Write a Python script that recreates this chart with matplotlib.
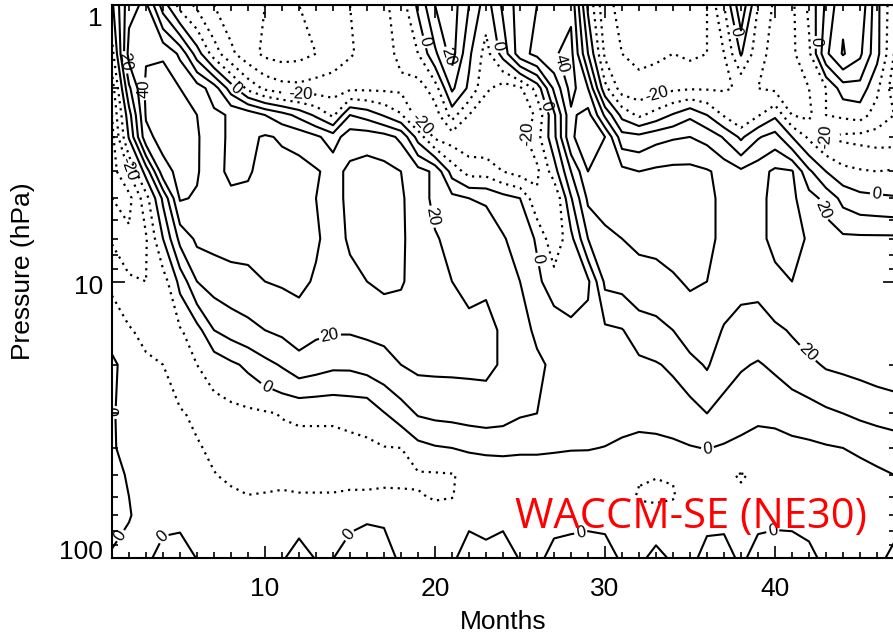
import numpy as np
import matplotlib
matplotlib.use("Agg")
import matplotlib.pyplot as plt
import matplotlib.transforms as mtrans
from matplotlib.ticker import FixedLocator, NullFormatter

# ---------------- data (zonal wind, m/s) ----------------
months = list(range(1, 48))
pressure = [1, 1.5, 2, 2.5, 3, 4, 5, 7, 10, 15, 20, 30, 40, 50, 60, 70, 100]

u_p1 = [-2, 27, 32, 5, -14, -22, -30, -35, -38, -40, -41, -40, -38, -35, -30, -26, -22, -15, 2, 20,
        25, 10, -5, 12, 25, 30, 34, 38, -2, -28, -32, -36, -38, -35, -32, -30, -10, 18, -10, -22,
        -22, -8, 12, 28, 28, 3, -18]
u_p1_5 = [-14, 34, 39, 39, 28, 5, -15, -28, -36, -42, -44, -43, -40, -36, -31, -27, -23, -18, -10, 8,
          24, 2, -14, 4, 26, 33, 39, 43, 10, -22, -30, -33, -32, -30, -32, -30, -20, 1, -16, -24,
          -22, -12, 18, 31, 22, 3, -20]
u_p2 = [-25, 18, 42, 44, 40, 35, 25, 5, -13, -22, -26, -27, -25, -24, -22, -22, -22, -22, -25, -15,
        12, -2, -18, -25, -22, -6, 22, 44, 30, -7, -25, -26, -24, -22, -21, -21, -21, -19, -20, -22,
        -23, -20, -10, 5, 6, -8, -25]
u_p2_5 = [-30, 6, 41, 45, 44, 40, 32, 29, 27, 20, 14, 7, -2, -12, 10, 6, -1, -9, -24, -25,
          -6, -20, -28, -30, -28, -18, 8, 38, 44, 18, -3, -12, -6, 1, 8, 0, -11, -20, -11, -2,
          -20, -22, -10, -8, -6, -14, -20]
u_p3 = [-33, 1, 37, 44, 46, 41, 34, 28, 28, 31, 29, 27, 22, 15, 26, 26, 24, 18, -4, -22,
        -25, -27, -28, -28, -24, -14, 7, 39, 44, 40, 14, 13, 17, 19, 20, 17, 9, -2, 9, 14,
        0, -12, -20, -22, -23, -24, -24]
u_p4 = [-34, -20, 4, 36, 43, 41, 33, 28, 29, 33, 33, 33, 31, 27, 32, 34, 33, 30, 24, 18,
        -4, -14, -14, -20, -24, -22, -5, 20, 40, 38, 33, 30, 32, 33, 33, 31, 27, 22, 26, 32,
        31, 12, 0, -7, -9, -10, -9]
u_p5 = [-30, -33, -14, 12, 41, 39, 33, 32, 32, 34, 34, 34, 30, 27, 32, 35, 34, 31, 26, 17,
        13, 10, 9, 4, 0, -18, -20, 9, 32, 35, 33, 31, 33, 34, 34, 32, 28, 26, 28, 32,
        32, 24, 17, 7, 3, 2, 1]
u_p7 = [-21, -28, -21, 0, 23, 32, 33, 34, 34, 33, 32, 32, 31, 27, 31, 34, 33, 31, 27, 21,
        17, 15, 15, 11, 5, -1, -18, -3, 20, 27, 30, 32, 33, 33, 34, 32, 28, 26, 28, 32,
        33, 29, 24, 22, 22, 22, 22]
u_p10 = [-12, -18, -20, -15, 3, 20, 24, 26, 27, 30, 31, 32, 29, 26, 28, 30, 32, 31, 26, 22,
         20, 18, 19, 14, 10, 2, -5, -9, -2, 22, 23, 26, 26, 29, 31, 30, 26, 23, 23, 28,
         30, 27, 25, 24, 24, 24, 24]
u_p15 = [-4, -9, -13, -14, -11, -4, 10, 14, 17, 20, 22, 25, 22, 21, 21, 22, 23, 24, 24, 23,
         23, 22, 22, 19, 12, 9, 6, 4, 4, 8, 9.5, 15, 17, 20, 25, 26, 19, 16, 15, 18,
         21, 24, 24, 24, 24, 24, 24]
u_p20 = [2, -4, -8, -10, -13, -10, -7, -2, 2, 7, 11, 16, 14, 12, 12, 14, 16, 20, 22, 22,
         22, 22, 22, 19, 14, 11, 9, 7, 7, 5.6, 6.3, 7.8, 9.2, 11.7, 17, 21, 14.4, 11, 9.2, 11.7,
         15, 18, 21, 22, 23, 24, 24]
u_p30 = [1, -4, -6, -8, -9.5, -11, -13, -13, -12, -11, -9.5, -9, -9, -9, -8, -8, -0.5, 5, 11, 12.4,
         13, 14, 15, 14, 11, 10, 9, 7, 6, 5, 2, 2, 2.5, 3.5, 5.5, 10, 6, 3, 1.5, 2,
         4, 5.5, 8, 10, 12, 14, 16]
u_p40 = [1, -3, -5, -7, -8, -9.5, -11, -12, -13, -13, -13, -12, -12, -12, -12, -11, -10.5, -10, -3.5, -1,
         0, 1.5, 2, 2, 1.5, 1.5, 1, 0.5, 0.5, -0.3, -1, -2, -2, -1.5, -0.5, 0.3, -1, -2, -3, -3,
         -2.5, -2, -1, 0, 1, 2, 3]
u_p50 = [3, -1, -5, -7, -8, -9, -9.8, -11, -12, -12, -12, -12, -12, -12, -12, -12, -12, -11.5, -11, -11,
         -10.5, -8, -6, -5, -5, -5, -5, -5, -6, -7, -8, -9.5, -9.8, -9.6, -8, -7, -9, -10.5, -9, -7,
         -6, -5, -4, -3, -2, -1, 0]
u_p60 = [3, 0, -3, -5, -6, -7, -8, -9, -9.8, -9.5, -9, -9.5, -9.5, -9.5, -9, -9, -8.5, -9, -9.5, -10.5,
         -10.3, -7, -6, -5, -5, -5, -5, -5, -6, -7, -8, -10.5, -11, -10.5, -7, -6, -7, -9, -7, -6,
         -5, -5, -4, -4, -3, -2, -1]
u_p70 = [3, 0.5, -3, -4, -4, -5, -6, -6, -6, -6, -5, -4, -5, -5, -4, -2, -2.5, -6, -7, -8,
         -6, -4, -4.5, -4, -5, -5, -4, -4, -4, -4, -5, -8, -8, -7, -6, -4, -4, -6, -4, -4,
         -4, -4, -4, -4, -4, -4, -3]
u_p100 = [-1, -3, -3, 5, 7, -0.5, -3, -4, -4, -4, -1, 4, -0.5, -0.3, 7, 9, 7, -3, -4, -3,
          -3, 8, 4, 8, -1, -3, 4, 6, 8, 6, -2, -3, 4, -2, -4, 5, 6, -3, 6, 9,
          8, 3, -3, -4, -3, -2, 2]

neg_label_levels = [-20]
neg_plain_levels = [-40, -30, -10]
pos_label_levels = [0, 20, 40]
pos_plain_levels = [10, 30]
x_ticks = [10, 20, 30, 40]
y_ticks = [1, 10, 100]
y_ticklabels = ["1", "10", "100"]

# label anchor points (month, hPa)
pos_label_pts = [(1.65, 1.61), (2.9, 2.0), (8.35, 1.99), (19.1, 1.37), (20.7, 1.54), (19.7, 5.84),
                 (13.8, 15.6), (10.1, 23.9), (1.35, 29.6), (1.5, 82.9), (3.8, 82.9),
                 (15.1, 83.5), (23.4, 1.42), (26.7, 2.3), (27.2, 1.65), (25.8, 8.36),
                 (37.5, 1.25), (42.5, 1.36), (46.0, 4.67), (43.1, 5.42), (41.6, 18.9),
                 (36.0, 39.8), (28.6, 82.9), (39.9, 81.2)]
neg_label_pts = [(2.06, 3.89), (12.06, 2.15), (19.1, 2.72), (25.2, 2.9), (33.1, 2.15), (42.8, 3.03)]

# ---------------- plot ----------------
U = np.array([u_p1, u_p1_5, u_p2, u_p2_5, u_p3, u_p4, u_p5, u_p7, u_p10, u_p15,
              u_p20, u_p30, u_p40, u_p50, u_p60, u_p70, u_p100], dtype=float)
M, P = np.meshgrid(months, pressure)

plt.rcParams['font.family'] = ['Liberation Sans', 'DejaVu Sans']

fig = plt.figure(figsize=(8.93, 6.37), dpi=100)
ax = fig.add_axes([112 / 893, 79 / 637, 783 / 893, 553 / 637])

dots = [(0, (1, 2.2))]
cn_plain = ax.contour(M, P, U, levels=neg_plain_levels, colors='black', linewidths=1.6,
                      linestyles=dots)
cn_lab = ax.contour(M, P, U, levels=neg_label_levels, colors='black', linewidths=1.6,
                    linestyles=dots)
cp_plain = ax.contour(M, P, U, levels=pos_plain_levels, colors='black', linewidths=1.5,
                      linestyles='solid')
cp_lab = ax.contour(M, P, U, levels=pos_label_levels, colors='black', linewidths=1.5,
                    linestyles='solid')

ax.set_yscale('log')
ax.set_ylim(100, 1)
ax.set_xlim(1, 1 + 783 / 17)

ax.clabel(cp_lab, inline=True, inline_spacing=2, fontsize=12, fmt='%d', manual=pos_label_pts)
ax.clabel(cn_lab, inline=True, inline_spacing=2, fontsize=12, fmt='%d', manual=neg_label_pts)

ax.xaxis.set_major_locator(FixedLocator(x_ticks))
ax.xaxis.set_minor_locator(FixedLocator(months))
ax.yaxis.set_major_locator(FixedLocator(y_ticks))
ax.yaxis.set_minor_locator(FixedLocator([2, 3, 4, 5, 6, 7, 8, 9, 20, 30, 40, 50, 60, 70, 80, 90]))
ax.yaxis.set_minor_formatter(NullFormatter())
ax.set_yticklabels([])
ax.set_xticklabels([str(t) for t in x_ticks])

ax.tick_params(which='both', direction='in', top=True, right=True, width=1.2,
               labelsize=19, colors='black')
ax.tick_params(which='major', length=9, pad=14)
ax.tick_params(which='minor', length=4.5)
for s in ax.spines.values():
    s.set_linewidth(1.5)

# y tick labels (placed as in the reference: "1" sits a bit below its tick, "100" a bit above)
ylab_shift_px = {"1": -14, "10": -5, "100": 6}
base = mtrans.blended_transform_factory(ax.transAxes, ax.transData)
for val, txt in zip(y_ticks, y_ticklabels):
    off = mtrans.ScaledTranslation(-9 / 100, ylab_shift_px[txt] / 100, fig.dpi_scale_trans)
    ax.text(0, val, txt, transform=base + off, ha='right', va='center', fontsize=19)

ax.set_xlabel('Months', fontsize=19, labelpad=6)
ax.set_ylabel('Pressure (hPa)', fontsize=19)
ax.yaxis.label.set_va('center')
ax.yaxis.set_label_coords((23 - 112) / 783, (558 - 271) / 553)

fig.text(515 / 893, 1 - 528 / 637, 'WACCM-SE (NE30)', color='red', fontsize=30,
         family=['Open Sans', 'DejaVu Sans'], ha='left', va='baseline')

fig.savefig('out.png', dpi=100)
